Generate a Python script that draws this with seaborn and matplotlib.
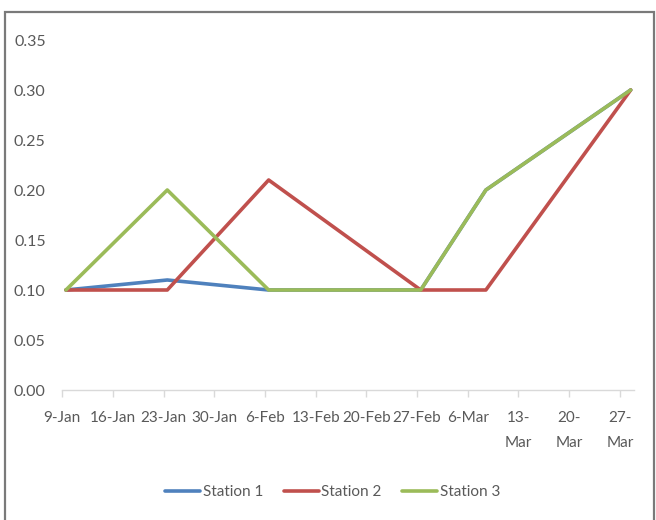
import pandas as pd
import seaborn as sns
import matplotlib.pyplot as plt
import matplotlib.dates as mdates
from matplotlib.patches import Rectangle

# ============ data ============
dates = ['2015-01-09', '2015-01-23', '2015-02-06', '2015-02-27', '2015-03-08', '2015-03-28']
station_1 = [0.10, 0.11, 0.10, 0.10, 0.20, 0.30]
station_2 = [0.10, 0.10, 0.21, 0.10, 0.10, 0.30]
station_3 = [0.10, 0.20, 0.10, 0.10, 0.20, 0.30]
series_names = ['Station 1', 'Station 2', 'Station 3']

tick_dates = ['2015-01-09', '2015-01-16', '2015-01-23', '2015-01-30', '2015-02-06', '2015-02-13',
              '2015-02-20', '2015-02-27', '2015-03-06', '2015-03-13', '2015-03-20', '2015-03-27']
tick_labels = ['9-Jan', '16-Jan', '23-Jan', '30-Jan', '6-Feb', '13-Feb',
               '20-Feb', '27-Feb', '6-Mar', '13-\nMar', '20-\nMar', '27-\nMar']
y_ticks = [0.00, 0.05, 0.10, 0.15, 0.20, 0.25, 0.30, 0.35]

colors = ['#4F81BD', '#C0504D', '#9BBB59']
text_color = '#595959'

# ============ long-form table for seaborn ============
frames = []
for name, values in zip(series_names, [station_1, station_2, station_3]):
    frames.append(pd.DataFrame({'date': pd.to_datetime(dates), 'value': values, 'station': name}))
df = pd.concat(frames, ignore_index=True)

sns.set_style('white')
plt.rcParams['font.family'] = ['Lato', 'DejaVu Sans']

fig = plt.figure(figsize=(6.56, 5.2), dpi=100)
ax = fig.add_axes([62.3 / 656, 1 - 390 / 520, (634.3 - 62.3) / 656, 350 / 520])

sns.lineplot(data=df, x='date', y='value', hue='station', palette=colors,
             linewidth=2.6, ax=ax, legend=True, estimator=None)

# Excel-style date axis: each day is a slot, ticks at slot edges
first_day = mdates.date2num(pd.Timestamp(dates[0]))
last_day = mdates.date2num(pd.Timestamp(dates[-1]))
ax.set_xlim(first_day - 0.5, last_day + 0.5)
ax.set_xticks([mdates.date2num(pd.Timestamp(d)) - 0.5 for d in tick_dates])
ax.set_xticklabels(tick_labels, fontsize=11, color=text_color, linespacing=2.0)
ax.set_ylim(0, 0.35)
ax.set_yticks(y_ticks)
ax.set_yticklabels([f'{v:.2f}' for v in y_ticks], fontsize=11.5, color=text_color)

ax.set_xlabel('')
ax.set_ylabel('')
for side in ['top', 'right', 'left']:
    ax.spines[side].set_visible(False)
ax.spines['bottom'].set_color('#D9D9D9')
ax.spines['bottom'].set_linewidth(1)
ax.tick_params(axis='x', which='major', direction='out', length=5, width=1,
               color='#D9D9D9', pad=10, bottom=True)
ax.tick_params(axis='y', length=0, pad=12)

handles, labels = ax.get_legend_handles_labels()
ax.get_legend().remove()
fig.legend(handles, labels, loc='center', bbox_to_anchor=(0.507, 1 - 492 / 520), ncol=3,
           frameon=False, fontsize=11, handlelength=2.3, handletextpad=0.15,
           columnspacing=1.35, labelcolor=text_color)

# chart border
fig.patches.append(Rectangle((5 / 656, -0.02), 649 / 656, 1 - 12 / 520 + 0.02,
                             transform=fig.transFigure, fill=False,
                             edgecolor='#7A7A7A', linewidth=1.6))

fig.savefig('out.png', dpi=100)
